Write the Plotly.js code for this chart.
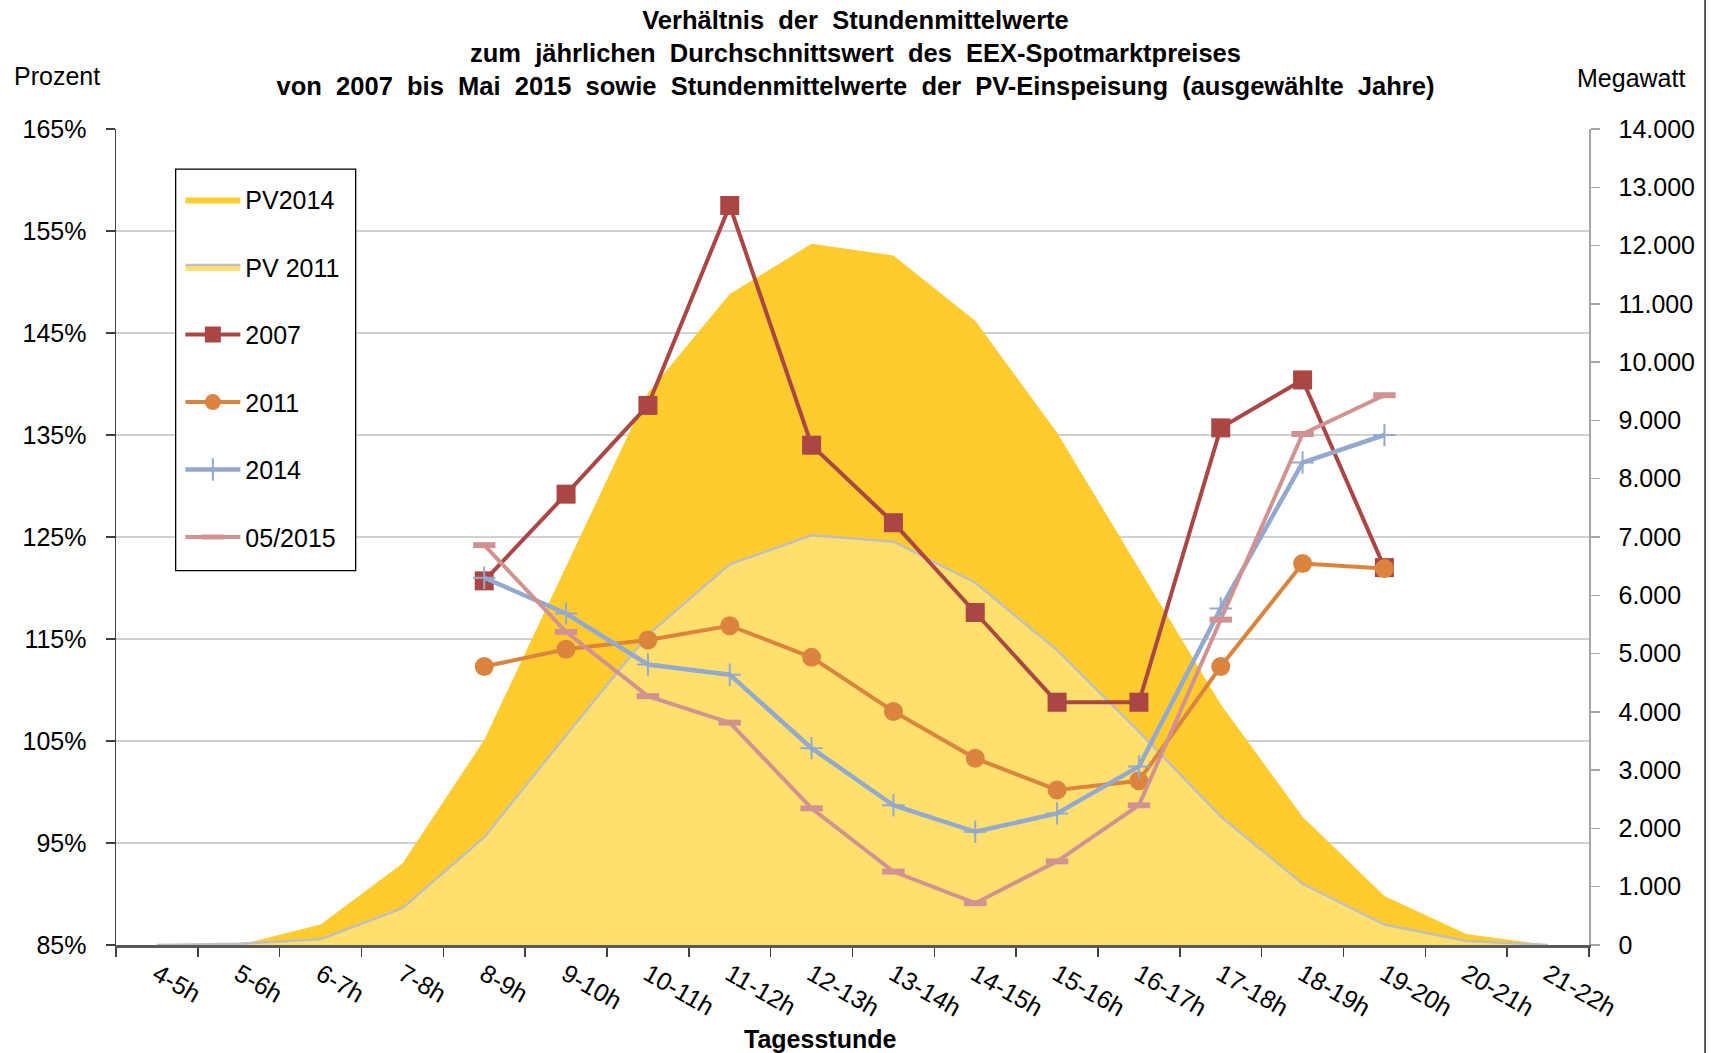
<!DOCTYPE html>
<html>
<head>
<meta charset="utf-8">
<script src="https://cdn.plot.ly/plotly-3.0.1.min.js"></script>
<style>html,body{margin:0;padding:0;background:#fff;}#chart{width:1711px;height:1053px;}</style>
</head>
<body>
<div id="chart"></div>
<script>
// Categories (hour of day)
const hours = ['4-5h','5-6h','6-7h','7-8h','8-9h','9-10h','10-11h','11-12h','12-13h','13-14h','14-15h','15-16h','16-17h','17-18h','18-19h','19-20h','20-21h','21-22h'];

// PV feed-in, hourly mean (Megawatt, right axis)
const pv2014 = [0, 0, 350, 1400, 3520, 6500, 9470, 11170, 12030, 11830, 10710, 8790, 6460, 4130, 2200, 840, 190, 0];
const pv2011 = [0, 20, 100, 630, 1850, 3600, 5320, 6530, 7030, 6920, 6215, 5060, 3660, 2205, 1050, 350, 70, 0];

// Ratio of hourly mean to yearly average spot price (percent, left axis)
const r2007 = [null, null, null, null, 120.7, 129.2, 137.9, 157.5, 134.0, 126.4, 117.6, 108.8, 108.8, 135.7, 140.4, 122.0, null, null];
const r2011 = [null, null, null, null, 112.3, 114.0, 114.9, 116.3, 113.2, 107.9, 103.3, 100.2, 101.1, 112.3, 122.4, 121.9, null, null];
const r2014 = [null, null, null, null, 121.0, 117.5, 112.5, 111.5, 104.3, 98.7, 96.1, 97.9, 102.5, 118.0, 132.3, 135.0, null, null];
const r2015 = [null, null, null, null, 124.2, 115.7, 109.4, 106.8, 98.4, 92.2, 89.1, 93.2, 98.7, 116.9, 135.1, 138.9, null, null];

const FONT = '"Liberation Sans", Arial, sans-serif';
const SP = ' &nbsp;';

const titleLines = [
  'Verhältnis der Stundenmittelwerte',
  'zum jährlichen Durchschnittswert des EEX-Spotmarktpreises',
  'von 2007 bis Mai 2015 sowie Stundenmittelwerte der PV-Einspeisung (ausgewählte Jahre)'
];

const traces = [
  {name: 'PV2014', x: hours, y: pv2014, type: 'scatter', mode: 'lines', fill: 'tozeroy',
   fillcolor: '#FFCB2F', line: {width: 0, color: '#FFCB2F'}, yaxis: 'y', legendgroup: 'a', hoverinfo: 'skip'},
  {name: 'PV 2011', x: hours, y: pv2011, type: 'scatter', mode: 'lines', fill: 'tozeroy',
   fillcolor: '#FFE06E', line: {width: 2.5, color: '#BFBFBF'}, yaxis: 'y', legendgroup: 'b', hoverinfo: 'skip'},
  {name: '2007', x: hours, y: r2007, type: 'scatter', mode: 'lines+markers', yaxis: 'y2', legendgroup: 'c',
   line: {color: '#AA4643', width: 4}, marker: {symbol: 'square', size: 19, color: '#AA4643'}, hoverinfo: 'skip'},
  {name: '2011', x: hours, y: r2011, type: 'scatter', mode: 'lines+markers', yaxis: 'y2', legendgroup: 'd',
   line: {color: '#DB843D', width: 4}, marker: {symbol: 'circle', size: 19, color: '#DB843D'}, hoverinfo: 'skip'},
  {name: '2014', x: hours, y: r2014, type: 'scatter', mode: 'lines+markers', yaxis: 'y2', legendgroup: 'e',
   line: {color: '#93A9CF', width: 4.5}, marker: {symbol: 'cross-thin', size: 16, color: '#93A9CF', line: {color: '#93A9CF', width: 2}}, hoverinfo: 'skip'},
  {name: '05/2015', x: hours, y: r2015, type: 'scatter', mode: 'lines+markers', yaxis: 'y2', legendgroup: 'f',
   line: {color: '#D19392', width: 4}, marker: {symbol: 'line-ew', size: 16, color: '#D19392', line: {color: '#D19392', width: 6}}, hoverinfo: 'skip'}
];

const layout = {
  width: 1711, height: 1053,
  margin: {l: 116, r: 122, t: 129, b: 108},
  separators: ',.',
  paper_bgcolor: '#ffffff', plot_bgcolor: '#ffffff',
  font: {family: FONT, size: 25, color: '#000'},
  title: {
    text: titleLines.map(s => '<b>' + s.split(' ').join(SP) + '</b>').join('<br>'),
    x: 0.5, xref: 'container', xanchor: 'center',
    y: 0.9725, yref: 'container', yanchor: 'top',
    font: {family: FONT, size: 25.5, color: '#000'}
  },
  showlegend: true,
  legend: {
    x: 0.0437, y: 0.9414, xanchor: 'left', yanchor: 'top',
    bgcolor: 'rgba(0,0,0,0)', borderwidth: 0,
    tracegroupgap: 32, itemwidth: 55, traceorder: 'grouped',
    font: {family: FONT, size: 25, color: '#000'}
  },
  xaxis: {
    type: 'category', categoryorder: 'array', categoryarray: hours, range: [-0.5, 17.5],
    tickson: 'boundaries', ticks: 'outside', ticklen: 9, tickwidth: 1.5, tickcolor: '#404040',
    showline: true, linecolor: '#595959', linewidth: 3, showgrid: false, zeroline: false,
    tickangle: 30, ticklabelstandoff: 2, tickfont: {family: FONT, size: 25, color: '#000'}, fixedrange: true
  },
  yaxis: {
    range: [0, 14000], dtick: 1000, tick0: 0, side: 'right', tickformat: ',d',
    showline: true, linecolor: '#A6A6A6', linewidth: 1.5, ticks: 'outside', ticklen: 9, tickwidth: 1.5, tickcolor: '#A6A6A6',
    showgrid: false, zeroline: false, ticklabelstandoff: 14, tickfont: {family: FONT, size: 25, color: '#000'}, fixedrange: true
  },
  yaxis2: {
    range: [85, 165], dtick: 10, tick0: 85, side: 'left', overlaying: 'y', ticksuffix: '%',
    showline: true, linecolor: '#404040', linewidth: 1.5, ticks: 'outside', ticklen: 9, tickwidth: 1.5, tickcolor: '#404040',
    showgrid: true, gridcolor: '#D2D2D2', gridwidth: 1.5, zeroline: false, ticklabelstandoff: 14,
    tickfont: {family: FONT, size: 25, color: '#000'}, fixedrange: true
  },
  annotations: [
    {text: 'Prozent', xref: 'paper', yref: 'paper', x: -0.040, y: 1.065, xanchor: 'center', yanchor: 'middle', showarrow: false, font: {family: FONT, size: 25, color: '#000'}},
    {text: 'Megawatt', xref: 'paper', yref: 'paper', x: 1.0285, y: 1.062, xanchor: 'center', yanchor: 'middle', showarrow: false, font: {family: FONT, size: 25, color: '#000'}},
    {text: '<b>Tagesstunde</b>', xref: 'paper', yref: 'paper', x: 0.478, y: -0.1152, xanchor: 'center', yanchor: 'middle', showarrow: false, font: {family: FONT, size: 25, color: '#000'}}
  ],
  shapes: [
    // legend frame
    {type: 'rect', xref: 'paper', yref: 'paper', x0: 0.0405, x1: 0.1627, y0: 0.4587, y1: 0.9509, layer: 'above',
     fillcolor: '#ffffff', line: {color: '#000000', width: 1.3}},
    // outer chart border (right edge)
    {type: 'line', xref: 'paper', yref: 'paper', x0: 1.0788, x1: 1.0788, y0: -0.14, y1: 1.17, line: {color: '#222', width: 1.5}}
  ]
};

Plotly.newPlot('chart', traces, layout, {staticPlot: true, displayModeBar: false});
</script>
</body>
</html>
